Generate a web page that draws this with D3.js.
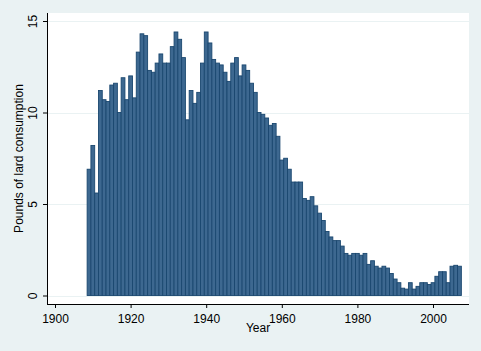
<!DOCTYPE html>
<html>
<head>
<meta charset="utf-8">
<script src="https://cdn.jsdelivr.net/npm/d3@7"></script>
<style>
  html, body { margin: 0; padding: 0; background: #eaf2f3; }
  svg { display: block; font-family: "Liberation Sans", Arial, sans-serif; }
</style>
</head>
<body>
<div id="chart"></div>
<script>
// Lard consumption per year, 1909 - 2007
const firstYear = 1909;
const lard = [
  6.9, 8.2, 5.6, 11.2, 10.7, 10.6, 11.5, 11.6, 10.0, 11.9,   // 1909-1918
  10.7, 12.0, 10.8, 13.3, 14.3, 14.2, 12.3, 12.2, 12.7, 13.2, // 1919-1928
  12.7, 12.7, 13.6, 14.4, 14.0, 13.0, 9.6, 11.2, 10.5, 11.1,  // 1929-1938
  12.7, 14.4, 13.8, 12.9, 12.7, 12.6, 12.2, 11.7, 12.7, 13.0, // 1939-1948
  12.0, 12.6, 12.3, 11.6, 11.1, 10.0, 9.9, 9.7, 9.3, 9.4,     // 1949-1958
  8.7, 7.4, 7.5, 6.9, 6.2, 6.2, 6.2, 5.3, 5.2, 5.4,           // 1959-1968
  4.9, 4.5, 4.1, 3.5, 3.2, 3.0, 3.0, 2.7, 2.3, 2.2,           // 1969-1978
  2.3, 2.3, 2.2, 2.3, 1.7, 1.9, 1.6, 1.5, 1.6, 1.5,           // 1979-1988
  1.2, 0.9, 0.7, 0.4, 0.35, 0.7, 0.35, 0.5, 0.7, 0.7,         // 1989-1998
  0.6, 0.7, 1.05, 1.3, 1.3, 0.7, 1.6, 1.65, 1.6               // 1999-2007
];
const xTicks = [1900, 1920, 1940, 1960, 1980, 2000];
const yTicks = [0, 5, 10, 15];

const data = lard.map((v, i) => ({ year: firstYear + i, value: v }));

const width = 481, height = 351;
const plot = { left: 47, right: 469, top: 13, bottom: 304 };

const svg = d3.select("#chart").append("svg")
  .attr("width", width)
  .attr("height", height);

svg.append("rect")
  .attr("width", width).attr("height", height)
  .attr("fill", "#eaf2f3");

// plot region
svg.append("rect")
  .attr("x", plot.left).attr("y", plot.top)
  .attr("width", plot.right - plot.left)
  .attr("height", plot.bottom - plot.top)
  .attr("fill", "#ffffff");

const x = d3.scaleLinear()
  .domain([1900, 2000])
  .range([55, 433]);

const y = d3.scaleLinear()
  .domain([0, 15])
  .range([295.5, 21]);

// gridlines
svg.append("g")
  .selectAll("line")
  .data(yTicks)
  .enter().append("line")
  .attr("x1", plot.left + 1).attr("x2", plot.right)
  .attr("y1", d => Math.round(y(d)) + 0.5)
  .attr("y2", d => Math.round(y(d)) + 0.5)
  .attr("stroke", "#eaf2f3")
  .attr("stroke-width", 1);

// bars
svg.append("g")
  .selectAll("rect")
  .data(data)
  .enter().append("rect")
  .attr("x", d => x(d.year - 0.5))
  .attr("width", d => x(d.year + 0.5) - x(d.year - 0.5))
  .attr("y", d => y(d.value))
  .attr("height", d => y(0) - y(d.value))
  .attr("fill", "#3d6890")
  .attr("stroke", "#1a476f")
  .attr("stroke-width", 0.9);

// x axis
const xAxis = svg.append("g")
  .attr("transform", `translate(0,${plot.bottom})`)
  .call(d3.axisBottom(x).tickValues(xTicks).tickSize(4).tickFormat(d3.format("d")));
xAxis.select(".domain")
  .attr("d", `M${plot.left},0.5H${plot.right}`)
  .attr("stroke", "#000");
xAxis.selectAll(".tick line").attr("stroke", "#000");
xAxis.selectAll(".tick text")
  .attr("fill", "#000")
  .attr("y", 19)
  .attr("dy", 0)
  .style("font-size", "12px");

// y axis
const yAxis = svg.append("g")
  .attr("transform", `translate(${plot.left},0)`)
  .call(d3.axisLeft(y).tickValues(yTicks).tickSize(4));
yAxis.select(".domain")
  .attr("d", `M0.5,${plot.top}V${plot.bottom}`)
  .attr("stroke", "#000");
yAxis.selectAll(".tick line").attr("stroke", "#000");
yAxis.selectAll(".tick text")
  .attr("fill", "#000")
  .attr("x", null).attr("dy", null)
  .attr("transform", "translate(-10,0) rotate(-90)")
  .attr("text-anchor", "middle")
  .style("font-size", "12px");

// axis titles
svg.append("text")
  .attr("x", (plot.left + plot.right) / 2)
  .attr("y", 332)
  .attr("text-anchor", "middle")
  .style("font-size", "12px")
  .text("Year");

svg.append("text")
  .attr("transform", `translate(23,${(plot.top + plot.bottom) / 2}) rotate(-90)`)
  .attr("text-anchor", "middle")
  .style("font-size", "12px")
  .text("Pounds of lard consumption");
</script>
</body>
</html>
